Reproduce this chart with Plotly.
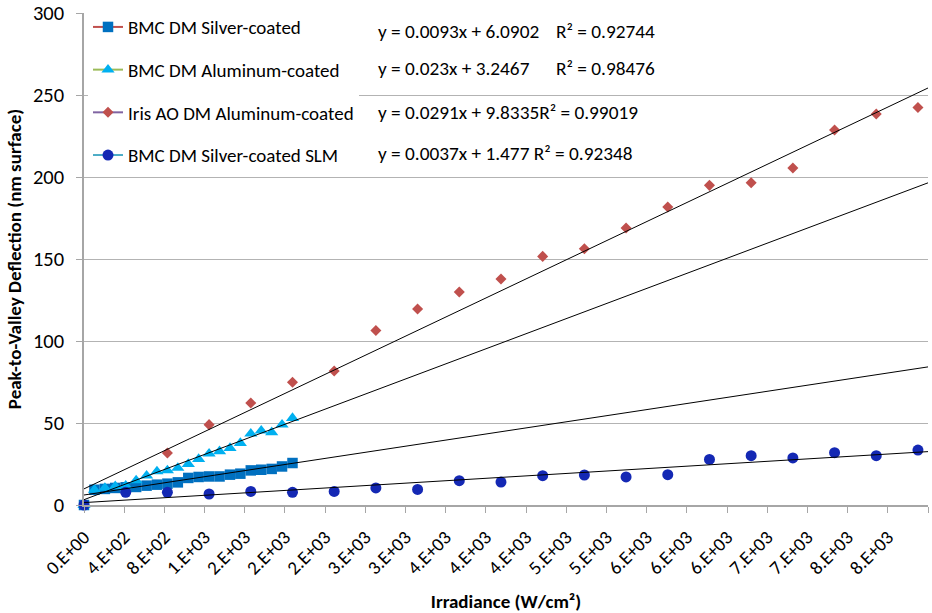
import plotly.graph_objects as go

# ---------------- data ----------------
series_names = ["BMC DM Silver-coated", "BMC DM Aluminum-coated",
                "Iris AO DM Aluminum-coated", "BMC DM Silver-coated SLM"]

x_silver = [0, 104, 208, 311, 415, 519, 623, 726, 830, 934, 1038, 1141, 1245,
            1349, 1453, 1556, 1660, 1764, 1868, 1971, 2075]
y_silver = [0, 9.3, 9.8, 10.4, 10.8, 11.0, 11.8, 12.4, 13.0, 13.8, 16.5, 17.1,
            17.4, 17.4, 18.5, 19.1, 21.1, 21.5, 22.0, 23.5, 25.6]

x_alum = [0, 104, 208, 311, 415, 519, 623, 726, 830, 934, 1038, 1141, 1245,
          1349, 1453, 1556, 1660, 1764, 1868, 1971, 2075]
y_alum = [0, 9.3, 10.4, 11.4, 11.8, 15.0, 17.9, 20.5, 21.1, 22.6, 25.0, 28.0,
          31.3, 32.7, 34.7, 37.8, 43.5, 45.3, 44.3, 49.0, 53.0]

x_iris = [830, 1245, 1660, 2075, 2490, 2905, 3320, 3735, 4150, 4565, 4980,
          5395, 5810, 6225, 6640, 7055, 7470, 7885, 8300]
y_iris = [31.7, 49.0, 62.2, 74.8, 81.7, 106.4, 119.5, 129.9, 137.8, 151.6,
          156.3, 168.9, 181.7, 194.9, 196.5, 205.5, 228.7, 238.4, 242.4]

x_slm = [0, 415, 830, 1245, 1660, 2075, 2490, 2905, 3320, 3735, 4150, 4565,
         4980, 5395, 5810, 6225, 6640, 7055, 7470, 7885, 8300]
y_slm = [0, 7.7, 7.7, 6.7, 8.3, 7.7, 8.3, 10.4, 9.5, 14.8, 14.0, 17.9, 18.3,
         17.1, 18.5, 27.8, 30.1, 28.7, 31.9, 30.1, 33.5]

fit_slopes = [0.0093, 0.023, 0.0291, 0.0037]
fit_intercepts = [6.0902, 3.2467, 9.8335, 1.477]
eq_left = ["y = 0.0093x + 6.0902", "y = 0.023x + 3.2467",
           "y = 0.0291x + 9.8335R² = 0.99019", "y = 0.0037x + 1.477 R² = 0.92348"]
eq_right = ["R² = 0.92744", "R² = 0.98476", "", ""]

x_tickvals = [0, 400, 800, 1200, 1600, 2000, 2400, 2800, 3200, 3600, 4000,
              4400, 4800, 5200, 5600, 6000, 6400, 6800, 7200, 7600, 8000, 8400]
x_ticktext = ["0.E+00", "4.E+02", "8.E+02", "1.E+03", "2.E+03", "2.E+03",
              "2.E+03", "3.E+03", "3.E+03", "4.E+03", "4.E+03", "4.E+03",
              "5.E+03", "5.E+03", "6.E+03", "6.E+03", "6.E+03", "7.E+03",
              "7.E+03", "8.E+03", "8.E+03", "8.E+03"]
x_range = [0, 8400]
y_range = [0, 300]

# ---------------- styles ----------------
FONT = "Carlito, Calibri, Lato, sans-serif"
marker_colors = ["#0070C0", "#00B0F0", "#C0504D", "#1428B4"]
legend_line_colors = ["#C0504D", "#9BBB59", "#8064A2", "#4BACC6"]
symbols = ["square", "triangle-up", "diamond", "circle"]
sizes = [10.5, 11.5, 8.5, 11]

xs = [x_silver, x_alum, x_iris, x_slm]
ys = [y_silver, y_alum, y_iris, y_slm]

fig = go.Figure()

# data markers
for i in range(4):
    fig.add_trace(go.Scatter(
        x=xs[i], y=ys[i], mode="markers", name=series_names[i],
        marker=dict(symbol=symbols[i], size=sizes[i], color=marker_colors[i],
                    line=dict(width=0)),
        cliponaxis=False, showlegend=False, hoverinfo="x+y"))

# trendlines (from the fitted equations)
for i in range(4):
    fx = [x_range[0], x_range[1]]
    fy = [fit_slopes[i] * v + fit_intercepts[i] for v in fx]
    fig.add_trace(go.Scatter(x=fx, y=fy, mode="lines",
                             line=dict(color="#000000", width=1),
                             showlegend=False, hoverinfo="skip"))

# legend entries
for i in range(4):
    fig.add_trace(go.Scatter(
        x=[None], y=[None], mode="lines+markers", name=series_names[i],
        legendgroup=str(i),
        line=dict(color=legend_line_colors[i], width=2),
        marker=dict(symbol=symbols[i], size=sizes[i], color=marker_colors[i],
                    line=dict(width=0))))

# equation labels
eq_y = [30.7, 68.3, 111.7, 153.3]   # pixel rows
PLOT_TOP, PLOT_BOTTOM, PLOT_LEFT, PLOT_RIGHT = 12.5, 505.3, 84, 928
H = PLOT_BOTTOM - PLOT_TOP
W = PLOT_RIGHT - PLOT_LEFT
EQ_SIZE = 19.3
for i in range(4):
    fig.add_annotation(text=eq_left[i], xref="paper", yref="paper",
                       x=(376 - PLOT_LEFT) / W, y=(PLOT_BOTTOM - eq_y[i]) / H,
                       xanchor="left", yanchor="middle", showarrow=False,
                       font=dict(family=FONT, size=EQ_SIZE, color="#000000"))
    if eq_right[i]:
        fig.add_annotation(text=eq_right[i], xref="paper", yref="paper",
                           x=(554 - PLOT_LEFT) / W, y=(PLOT_BOTTOM - eq_y[i]) / H,
                           xanchor="left", yanchor="middle", showarrow=False,
                           font=dict(family=FONT, size=EQ_SIZE, color="#000000"))

fig.update_layout(
    width=932, height=613,
    margin=dict(l=PLOT_LEFT, r=932 - PLOT_RIGHT, t=PLOT_TOP, b=613 - PLOT_BOTTOM,
                autoexpand=False),
    paper_bgcolor="white", plot_bgcolor="white",
    font=dict(family=FONT, size=19, color="#000000"),
    showlegend=True,
    legend=dict(x=(88 - PLOT_LEFT) / W, y=1.01, xanchor="left", yanchor="top",
                bgcolor="white", borderwidth=0, tracegroupgap=15,
                font=dict(family=FONT, size=19, color="#000000")),
    xaxis=dict(range=x_range, tickmode="array", tickvals=x_tickvals,
               ticktext=x_ticktext, tickangle=-45, ticks="outside", ticklen=6,
               tickcolor="#A6A6A6", showline=True, linecolor="#A6A6A6",
               linewidth=1.5, showgrid=False, zeroline=False, automargin=False,
               ticklabelstandoff=6,
               tickfont=dict(family=FONT, size=19, color="#000000"),
               title=dict(text="<b>Irradiance (W/cm²)</b>", standoff=16,
                          font=dict(family=FONT, size=19, color="#000000"))),
    yaxis=dict(range=y_range, dtick=50, ticks="outside", ticklen=6,
               tickcolor="#A6A6A6", showline=True, linecolor="#A6A6A6",
               linewidth=1.5, showgrid=True, gridcolor="#B3B3B3", gridwidth=1.2,
               zeroline=False, automargin=False, ticklabelstandoff=8,
               tickfont=dict(family=FONT, size=20.5, color="#000000"),
               title=dict(text="<b>Peak-to-Valley Deflection (nm surface)</b>",
                          standoff=6,
                          font=dict(family=FONT, size=19, color="#000000"))),
)

fig.write_html("out.html")
